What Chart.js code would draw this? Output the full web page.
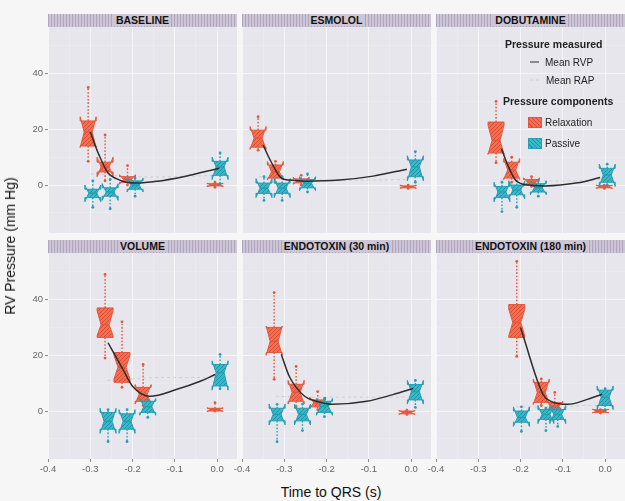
<!DOCTYPE html>
<html><head><meta charset="utf-8">
<script src="https://cdn.jsdelivr.net/npm/chart.js@4.4.1/dist/chart.umd.min.js"></script>
<style>
html,body{margin:0;padding:0;background:#f6f6f7;width:625px;height:501px;overflow:hidden;font-family:"Liberation Sans",Arial,sans-serif;}
canvas{position:absolute;}
.strip{position:absolute;height:13px;width:189px;background-color:#cdc6d6;background-image:repeating-linear-gradient(90deg,rgba(140,128,160,0.45) 0 1px,transparent 1px 3px);font-weight:bold;font-size:10.5px;line-height:13px;text-align:center;color:#111;}
.strip span{background:#cdc6d6;padding:0 2px;}
.lg{position:absolute;white-space:nowrap;color:#222;transform:translateY(-50%);z-index:5;}
.t{position:absolute;white-space:nowrap;color:#111;font-size:14px;transform:translate(-50%,-50%);}
.key{position:absolute;width:14px;height:11px;z-index:5;box-sizing:border-box;}
</style></head>
<body>
<div id="root"></div>
<script>
// ---------- DATA ----------
const panelNames = ['BASELINE','ESMOLOL','DOBUTAMINE','VOLUME','ENDOTOXIN (30 min)','ENDOTOXIN (180 min)'];
const xTickValues = [-0.4,-0.3,-0.2,-0.1,0.0];
const yTickValues = [0,20,40];

// Relaxation component boxes (per panel: 4 time points)
const relaxTime = [[-0.305,-0.265,-0.212,-0.005],[-0.362,-0.321,-0.26,-0.007],[-0.258,-0.221,-0.174,-0.002],[-0.265,-0.225,-0.175,-0.005],[-0.324,-0.272,-0.221,-0.01],[-0.209,-0.151,-0.119,-0.011]];
const relaxMed  = [[19,6.5,2,0],[16.8,4.7,1.5,-0.6],[16,5.4,1,-0.6],[31,15.7,6,0.5],[25,6.7,3,-0.5],[31.8,6.7,1.7,0]];
const relaxQ1   = [[14,4.7,1,-0.3],[13.6,2.5,0.8,-1],[11.5,2.5,0,-1],[26.4,10.3,3.5,0],[21,3.5,1.5,-1],[26.4,3.1,0.5,-0.5]];
const relaxQ3   = [[23,8.2,3,0.5],[19.7,7.2,2.2,-0.3],[22.6,8.2,2,-0.2],[37,21,8.5,1],[30,9.6,4,0],[38.2,10.3,3,0.5]];
const relaxNotchLo = [[13.5,3,0.3,-0.6],[12.8,1.8,0.3,-1.2],[11,2,-0.5,-1.2],[27,11.5,2.5,-0.2],[20,2.5,1,-1.2],[27,2.3,0,-0.7]];
const relaxNotchHi = [[24.5,10,3.7,0.7],[21,8.5,2.8,0],[21.5,9.5,2.6,0],[36,20,9.5,1.2],[30.5,11,5,0.2],[36.5,11.5,3.6,0.7]];
const relaxWhiskLo = [[8.5,1.5,0,-0.8],[12.5,1,0,-1.2],[8,1,-0.5,-1.2],[19,8.5,2,0],[11.4,1.5,0.5,-1.2],[19.6,2,0,-0.7]];
const relaxWhiskHi = [[35,18,7,1],[24.5,8.5,3.5,0],[30,10,3,0],[49,32,16.7,3],[42.5,16,7,0.3],[53.7,11.5,6.7,0.5]];

// Passive component boxes
const passiveTime = [[-0.294,-0.253,-0.194,0.007],[-0.348,-0.305,-0.245,0.01],[-0.244,-0.209,-0.158,0.005],[-0.258,-0.213,-0.164,0.007],[-0.317,-0.257,-0.205,0.01],[-0.198,-0.14,-0.112,0.0]];
const passiveMed  = [[-2.9,-2.5,0,6.5],[-1.1,-1.1,0.6,6.5],[-2.5,-1.8,-1,3.6],[-3.7,-3.7,1.6,13.8],[-1.2,-1.2,1.7,7],[-2.3,-1.2,-1.2,4.9]];
const passiveQ1   = [[-4.5,-4,-1.5,3.5],[-3,-3,-1,3],[-4.5,-3.5,-2.5,1],[-6.5,-6.5,-0.5,9],[-3.5,-3.5,-0.5,4],[-4,-3,-3,2]];
const passiveQ3   = [[-1.5,-1,1.5,8.5],[0.7,0.7,2,9],[-0.5,0,0.5,6],[-0.5,-1,3.5,16.7],[1,1,3.5,9.5],[0,0.5,0.5,7.5]];
const passiveNotchLo = [[-6,-5.5,-2.5,2],[-4.5,-4.5,-2,1.5],[-6,-5,-3.5,-0.5],[-8,-8,-1.5,7.5],[-5,-5,-1.5,2.5],[-5.5,-4.5,-4.5,0.5]];
const passiveNotchHi = [[0,0.5,2.5,10],[2.3,2.3,3,10.5],[1,1.5,1.5,7.5],[1,0.5,4.5,18],[2.5,2.5,4.5,11],[1.5,2,2,9]];
const passiveWhiskLo = [[-8,-8.5,-4,0.5],[-5.5,-5.5,-2.5,1],[-9.5,-8,-4,0],[-11,-11,-2.3,8],[-11,-7,-2,1.3],[-7.3,-7,-5.5,0.5]];
const passiveWhiskHi = [[1.5,2,2.5,11.5],[3,3,4,12],[1,1.5,1.5,7.5],[0.5,0.5,4,20.3],[2.4,2.5,4.5,11],[1.5,1,1,8]];

// Mean RVP (solid) and Mean RAP (faint) curves
const rvpTime  = [[-0.3,-0.28,-0.258,-0.237,-0.215,-0.19,-0.14,-0.08,-0.03,0.005],[-0.35,-0.33,-0.307,-0.288,-0.248,-0.169,-0.09,-0.01],[-0.245,-0.23,-0.212,-0.181,-0.142,-0.065,-0.012],[-0.258,-0.223,-0.2,-0.159,-0.095,-0.04,-0.005],[-0.307,-0.288,-0.252,-0.224,-0.186,-0.105,-0.043,0.005],[-0.2,-0.147,-0.128,-0.088,-0.042,-0.007]];
const rvpValue = [[19,11,4.3,2.2,1,0.7,1.4,3,4.8,6],[14.3,8,2.5,1.8,1.4,1.8,3.2,5.7],[13,7,1.8,0,-0.3,0.8,2.7],[24.5,15,8.9,5.3,7.8,10.7,13.1],[20.3,12.4,5.3,3.5,2.4,3.5,5.9,8.1],[30,6,3.5,2.4,4.2,6]];
const rapTime  = [[-0.3,-0.25,-0.2,-0.1,0.0],[-0.36,-0.3,-0.22,-0.1,-0.01],[-0.245,-0.2,-0.15,-0.08,0.0],[-0.26,-0.2,-0.15,-0.08,0.0],[-0.32,-0.25,-0.2,-0.12,0.0],[-0.21,-0.15,-0.1,-0.05,0.0]];
const rapValue = [[4,3.5,3,3,3.5],[3,2,1.8,1.8,2],[2,1.5,1.5,1.5,2],[11,11.5,12,12,12],[5.3,5,5,5,5],[1.5,1.5,1.5,2,2]];

// ---------- STYLE / LAYOUT ----------
const FONT = '"Liberation Sans", Arial, sans-serif';
const colLeft = [48,242,436], rowTop = [27,253], stripTop = [14,240];
const panelW = 189, panelH = 206;
const RELAX = {fill:'#f46f52', stripe:'#dc4d33', line:'#e5573d'};
const PASS  = {fill:'#3ab7c9', stripe:'#1f95aa', line:'#249fb3'};

function hatchCanvas(base, stripe){
  const c = document.createElement('canvas'); c.width = 4; c.height = 4;
  const g = c.getContext('2d');
  g.fillStyle = base; g.fillRect(0,0,4,4);
  g.strokeStyle = stripe; g.lineWidth = 1;
  g.beginPath(); g.moveTo(-1,5); g.lineTo(5,-1); g.stroke();
  return c;
}

const bgPlugin = {id:'panelBg', beforeDraw(chart){
  const {ctx, chartArea:a} = chart;
  ctx.save(); ctx.fillStyle = '#e7e6ed'; ctx.fillRect(a.left, a.top, a.width, a.height); ctx.restore();
}};

const boxPlugin = {id:'notchedBoxes', beforeDatasetsDraw(chart){
  const {ctx, chartArea:a, scales:{x, y}} = chart;
  ctx.save();
  ctx.beginPath(); ctx.rect(a.left, a.top, a.width, a.height); ctx.clip();
  chart.data.datasets.forEach(ds => {
    const b = ds.boxStats; if (!b) return;
    const pat = ctx.createPattern(hatchCanvas(b.style.fill, b.style.stripe), 'repeat');
    const Y = v => y.getPixelForValue(v);
    for (let i = 0; i < b.t.length; i++){
      const cx = x.getPixelForValue(b.t[i]);
      const hw = 8, ind = hw * 0.5;
      const q1 = Y(b.q1[i]), q3 = Y(b.q3[i]), md = Y(b.med[i]), nl = Y(b.nlo[i]), nh = Y(b.nhi[i]), wl = Y(b.wlo[i]), wh = Y(b.whi[i]);
      ctx.strokeStyle = b.style.line; ctx.lineWidth = 1.4; ctx.setLineDash([1.6,1.8]);
      ctx.beginPath(); ctx.moveTo(cx, q3); ctx.lineTo(cx, wh); ctx.moveTo(cx, q1); ctx.lineTo(cx, wl); ctx.stroke();
      ctx.setLineDash([]);
      ctx.fillStyle = b.style.line;
      [wh, wl].forEach(yy => { ctx.beginPath(); ctx.arc(cx, yy, 1.4, 0, Math.PI*2); ctx.fill(); });
      ctx.beginPath();
      ctx.moveTo(cx-hw, q3); ctx.lineTo(cx-hw, nh); ctx.lineTo(cx-hw+ind, md); ctx.lineTo(cx-hw, nl); ctx.lineTo(cx-hw, q1);
      ctx.lineTo(cx+hw, q1); ctx.lineTo(cx+hw, nl); ctx.lineTo(cx+hw-ind, md); ctx.lineTo(cx+hw, nh); ctx.lineTo(cx+hw, q3);
      ctx.closePath();
      ctx.fillStyle = pat; ctx.fill();
      ctx.lineWidth = 1; ctx.strokeStyle = b.style.line; ctx.stroke();
      ctx.lineWidth = 1.5; ctx.beginPath(); ctx.moveTo(cx-hw+ind, md); ctx.lineTo(cx+hw-ind, md); ctx.stroke();
    }
  });
  ctx.restore();
}};

const root = document.getElementById('root');
const near = (v, list) => list.some(t => Math.abs(t - v) < 1e-6);

for (let p = 0; p < 6; p++){
  const col = p % 3, row = Math.floor(p / 3);
  const yAxisW = col === 0 ? 48 : 0;
  const padL = col === 0 ? 0 : 14, padR = 14;
  const xAxisH = row === 1 ? 22 : 0;
  const cv = document.createElement('canvas');
  const W = padL + yAxisW + panelW + padR, H = panelH + xAxisH;
  cv.width = W; cv.height = H;
  cv.style.left = (colLeft[col] - yAxisW - padL) + 'px';
  cv.style.top = rowTop[row] + 'px';
  cv.style.width = W + 'px'; cv.style.height = H + 'px';
  root.appendChild(cv);

  const strip = document.createElement('div');
  strip.className = 'strip';
  strip.style.left = colLeft[col] + 'px'; strip.style.top = stripTop[row] + 'px';
  strip.innerHTML = '<span>' + panelNames[p] + '</span>';
  root.appendChild(strip);

  const pts = (xs, ys) => xs.map((t, i) => ({x: t, y: ys[i]}));
  new Chart(cv, {
    type: 'scatter',
    data: {datasets: [
      {type:'line', label:'Mean RVP', data: pts(rvpTime[p], rvpValue[p]), borderColor:'#2d2d2d', borderWidth:1.5, pointRadius:0, cubicInterpolationMode:'monotone', order:1},
      {type:'line', label:'Mean RAP', data: pts(rapTime[p], rapValue[p]), borderColor:'rgba(120,120,120,0.22)', borderWidth:1, borderDash:[3,3], pointRadius:0, tension:0.4, order:2},
      {type:'scatter', label:'Relaxation', data: pts(relaxTime[p], relaxMed[p]), pointRadius:0, order:3,
        boxStats:{style:RELAX, t:relaxTime[p], med:relaxMed[p], q1:relaxQ1[p], q3:relaxQ3[p], nlo:relaxNotchLo[p], nhi:relaxNotchHi[p], wlo:relaxWhiskLo[p], whi:relaxWhiskHi[p]}},
      {type:'scatter', label:'Passive', data: pts(passiveTime[p], passiveMed[p]), pointRadius:0, order:4,
        boxStats:{style:PASS, t:passiveTime[p], med:passiveMed[p], q1:passiveQ1[p], q3:passiveQ3[p], nlo:passiveNotchLo[p], nhi:passiveNotchHi[p], wlo:passiveWhiskLo[p], whi:passiveWhiskHi[p]}}
    ]},
    options: {
      responsive:false, animation:false, devicePixelRatio:1, events:[],
      layout:{padding:{left:padL, right:padR, top:0, bottom:0}},
      plugins:{legend:{display:false}, tooltip:{enabled:false}},
      scales:{
        x:{type:'linear', min:-0.4, max:0.047,
          afterFit: s => { s.height = xAxisH; s.paddingLeft = 0; s.paddingRight = 0; },
          border:{display:false},
          grid:{color: c => near(c.tick.value, xTickValues) ? 'rgba(255,255,255,0.6)' : 'rgba(255,255,255,0.3)',
                lineWidth: c => near(c.tick.value, xTickValues) ? 1 : 0.6,
                drawTicks: row === 1, tickLength:3,
                tickColor: c => near(c.tick.value, xTickValues) ? '#8a8a8a' : 'rgba(0,0,0,0)'},
          ticks:{display: row === 1, stepSize:0.05, includeBounds:false, autoSkip:false, maxRotation:0, padding:2,
                 color:'#666', font:{family:FONT, size:9.5},
                 callback: v => near(v, xTickValues) ? (Math.round(v*10)/10 || 0).toFixed(1) : ''}
        },
        y:{type:'linear', min:-17.2, max:56.7,
          afterFit: s => { s.width = yAxisW; s.paddingTop = 0; s.paddingBottom = 0; },
          border:{display:false},
          grid:{color: c => near(c.tick.value, yTickValues) ? 'rgba(255,255,255,0.6)' : 'rgba(255,255,255,0.3)',
                lineWidth: c => near(c.tick.value, yTickValues) ? 1 : 0.6,
                drawTicks: col === 0, tickLength:3,
                tickColor: c => near(c.tick.value, yTickValues) ? '#8a8a8a' : 'rgba(0,0,0,0)'},
          ticks:{display: col === 0, stepSize:10, includeBounds:false, autoSkip:false, padding:2,
                 color:'#666', font:{family:FONT, size:9.5},
                 callback: v => near(v, yTickValues) ? String(Math.round(v)) : ''}
        }
      }
    },
    plugins:[bgPlugin, boxPlugin]
  });
}

// ---------- Legend & titles (HTML text) ----------
function addDiv(cls, html, css){ const d = document.createElement('div'); d.className = cls; d.innerHTML = html; Object.assign(d.style, css); root.appendChild(d); return d; }
addDiv('lg', 'Pressure measured', {left:'505px', top:'44px', fontWeight:'bold', fontSize:'10.5px'});
addDiv('lg', '', {left:'530px', top:'62px', width:'9px', height:'0', borderTop:'1.5px solid #2d2d2d'});
addDiv('lg', 'Mean RVP', {left:'545px', top:'62px', fontSize:'10px'});
addDiv('lg', '', {left:'530px', top:'80px', width:'9px', height:'0', borderTop:'1px dashed rgba(120,120,120,0.22)'});
addDiv('lg', 'Mean RAP', {left:'546px', top:'80px', fontSize:'10px'});
addDiv('lg', 'Pressure components', {left:'503px', top:'101px', fontWeight:'bold', fontSize:'10.5px'});
addDiv('key', '', {left:'528px', top:'117px', background:'repeating-linear-gradient(45deg,#f46f52 0 2px,#dc4d33 2px 3px)', border:'1px solid #e5573d'});
addDiv('lg', 'Relaxation', {left:'545px', top:'122px', fontSize:'10px'});
addDiv('key', '', {left:'528px', top:'138px', background:'repeating-linear-gradient(45deg,#3ab7c9 0 2px,#1f95aa 2px 3px)', border:'1px solid #249fb3'});
addDiv('lg', 'Passive', {left:'545px', top:'143px', fontSize:'10px'});
addDiv('t', 'RV Pressure (mm Hg)', {left:'10px', top:'246px', transform:'translate(-50%,-50%) rotate(-90deg)'});
addDiv('t', 'Time to QRS (s)', {left:'331px', top:'492px'});
</script>
</body></html>
